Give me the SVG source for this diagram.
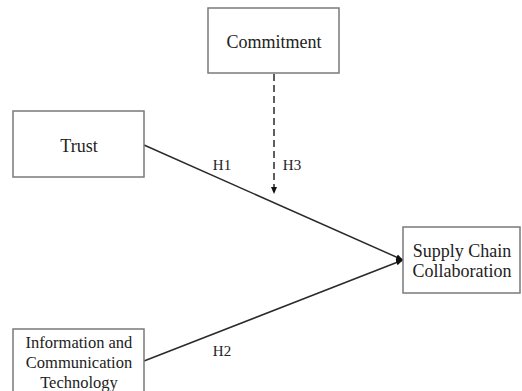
<svg xmlns="http://www.w3.org/2000/svg" width="522" height="391" viewBox="0 0 522 391">
<style>
.box{fill:#fff;stroke:#7a7a7a;stroke-width:1.5}
.t{font-family:"Liberation Serif","Times New Roman",serif;font-size:18px;fill:#222;text-anchor:middle}
.s{font-size:16.5px}
.h{font-size:15px}
.c{stroke:#2a2a2a;stroke-width:1.5;fill:none}
</style>
<defs>
<marker id="ah" markerWidth="8" markerHeight="8" refX="7" refY="4" orient="auto" markerUnits="userSpaceOnUse">
<path d="M0,1 L7,4 L0,7 Z" fill="#111"/>
</marker>
</defs>
<rect width="522" height="391" fill="#fff"/>
<g id="connectors">
<line class="c" x1="144" y1="145" x2="403" y2="260" marker-end="url(#ah)"/>
<line class="c" x1="144" y1="361" x2="403" y2="260" marker-end="url(#ah)"/>
<line class="c" x1="274" y1="74" x2="274" y2="194" stroke-dasharray="7,4" marker-end="url(#ah)"/>
<text class="t h" x="222" y="170">H1</text>
<text class="t h" x="292" y="170">H3</text>
<text class="t h" x="222" y="356">H2</text>
</g>
<g id="commitment">
<rect class="box" x="208" y="8" width="131" height="65"/>
<text class="t" x="274" y="48">Commitment</text>
</g>
<g id="trust">
<rect class="box" x="13" y="111" width="131" height="66"/>
<text class="t" x="79" y="152">Trust</text>
</g>
<g id="ict">
<rect class="box" x="13" y="329" width="131" height="70"/>
<text class="t s" x="79" y="348">Information and</text>
<text class="t s" x="79" y="368">Communication</text>
<text class="t s" x="79" y="388">Technology</text>
</g>
<g id="scc">
<rect class="box" x="403" y="227" width="117" height="66"/>
<text class="t" x="462" y="257">Supply Chain</text>
<text class="t" x="462" y="277">Collaboration</text>
</g>
</svg>
